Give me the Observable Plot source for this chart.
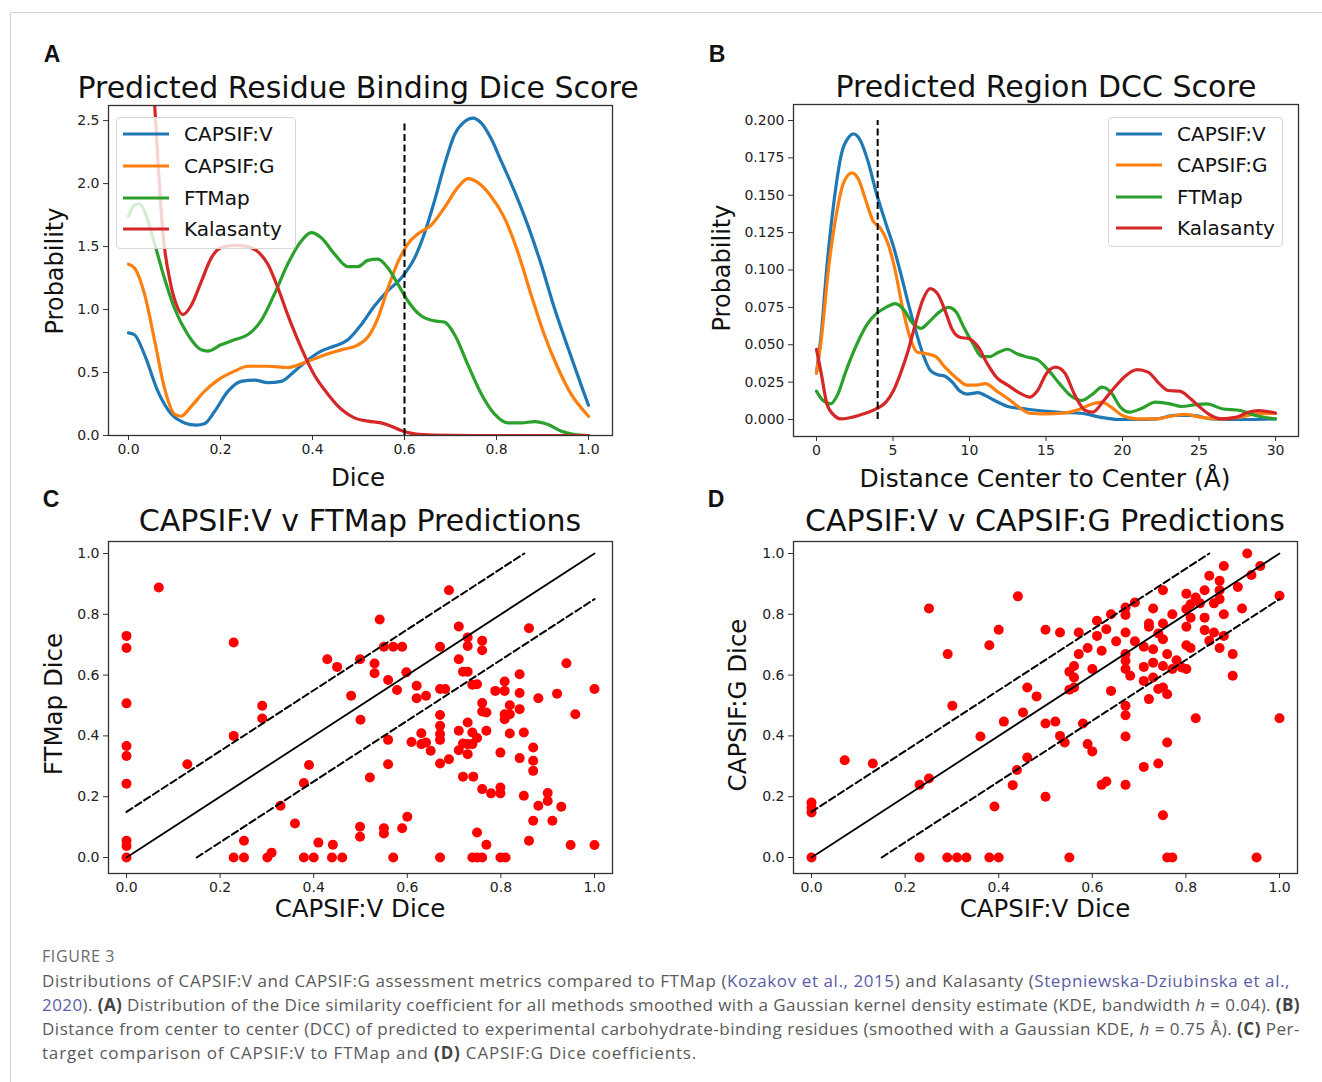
<!DOCTYPE html>
<html>
<head>
<meta charset="utf-8">
<script src="https://cdn.jsdelivr.net/npm/d3@7"></script>
<script src="https://cdn.jsdelivr.net/npm/@observablehq/plot@0.6"></script>
<style>
  html, body { margin: 0; padding: 0; background: #fff; }
  #page { position: relative; width: 1322px; height: 1082px; overflow: hidden; background: #fff; }
  #border { position: absolute; left: 10px; top: 12px; right: 0; bottom: -5px; border-top: 1px solid #d2d2d2; border-left: 1px solid #d2d2d2; }
  #fig { position: absolute; left: 0; top: 0; width: 1322px; height: 935px; }
  .t { position: absolute; white-space: nowrap; line-height: 1; font-family: "DejaVu Sans", sans-serif; color: #111; transform: translate(-50%, -50%); }
  .rot { transform: translate(-50%, -50%) rotate(-90deg); }
  .letter { font-family: "Liberation Sans", Arial, sans-serif; font-weight: bold; font-size: 23px; }
  .legend { position: absolute; background: rgba(255,255,255,0.8); border: 1px solid #d6d6d6; border-radius: 4px; box-sizing: border-box; }
  .lline { position: absolute; height: 3px; transform: translateY(-50%); }
  .ltext { position: absolute; font-family: "DejaVu Sans", sans-serif; font-size: 20px; line-height: 1; transform: translateY(-50%); white-space: nowrap; color: #111; }
  .cap { position: absolute; left: 42px; white-space: nowrap; font-family: "Open Sans", Lato, sans-serif; font-size: 17px; color: #595959; line-height: 1; transform: translateY(-50%); }
  .cap b { color: #444; }
  .cap a { color: #5a5ca8; text-decoration: none; }
</style>
</head>
<body>
<div id="page">
  <div id="border"></div>
  <div id="fig"></div>
  <div class="cap" style="top:956px;font-size:16px;letter-spacing:0.6px;color:#6a6a6a;">FIGURE 3</div>
  <div class="cap fit" data-right="1290" style="top:980px;">Distributions of CAPSIF:V and CAPSIF:G assessment metrics compared to FTMap (<a>Kozakov et al., 2015</a>) and Kalasanty (<a>Stepniewska-Dziubinska et al.,</a></div>
  <div class="cap fit" data-right="1300" style="top:1004px;"><a>2020</a>). <b>(A)</b> Distribution of the Dice similarity coefficient for all methods smoothed with a Gaussian kernel density estimate (KDE, bandwidth <i>h</i> = 0.04). <b>(B)</b></div>
  <div class="cap fit" data-right="1300" style="top:1028px;">Distance from center to center (DCC) of predicted to experimental carbohydrate-binding residues (smoothed with a Gaussian KDE, <i>h</i> = 0.75 Å). <b>(C)</b> Per-</div>
  <div class="cap fit" data-right="697" style="top:1052px;">target comparison of CAPSIF:V to FTMap and <b>(D)</b> CAPSIF:G Dice coefficients.</div>
</div>
<script>
// ---------------- DATA ----------------
const methods = ["CAPSIF:V", "CAPSIF:G", "FTMap", "Kalasanty"];
const methodColors = ["#1f77b4", "#ff7f0e", "#2ca02c", "#d62728"];

const diceTicks = [0, 0.2, 0.4, 0.6, 0.8, 1.0];
const probTicksA = [0, 0.5, 1.0, 1.5, 2.0, 2.5];
const dccTicks = [0, 5, 10, 15, 20, 25, 30];
const probTicksB = [0, 0.025, 0.05, 0.075, 0.1, 0.125, 0.15, 0.175, 0.2];

// Panel A: KDE of Dice (x, density)
const diceCapsifV = [[0,0.815],[0.013,0.80],[0.035,0.64],[0.064,0.35],[0.093,0.17],[0.122,0.10],[0.147,0.082],[0.165,0.093],[0.187,0.19],[0.216,0.35],[0.245,0.43],[0.274,0.44],[0.303,0.42],[0.332,0.43],[0.361,0.51],[0.39,0.60],[0.419,0.67],[0.448,0.71],[0.477,0.76],[0.506,0.88],[0.535,1.03],[0.564,1.15],[0.593,1.25],[0.622,1.41],[0.643,1.60],[0.665,1.86],[0.687,2.15],[0.709,2.39],[0.73,2.49],[0.749,2.52],[0.767,2.48],[0.788,2.36],[0.81,2.18],[0.839,1.94],[0.868,1.67],[0.897,1.36],[0.926,1.01],[0.955,0.70],[0.984,0.40],[1.0,0.24]];
const diceCapsifG = [[0,1.36],[0.013,1.33],[0.035,1.12],[0.057,0.75],[0.078,0.38],[0.1,0.17],[0.114,0.153],[0.136,0.23],[0.165,0.35],[0.194,0.44],[0.23,0.51],[0.259,0.55],[0.303,0.55],[0.346,0.54],[0.383,0.58],[0.419,0.63],[0.462,0.68],[0.499,0.72],[0.52,0.78],[0.542,0.93],[0.564,1.17],[0.586,1.38],[0.607,1.52],[0.629,1.60],[0.658,1.67],[0.687,1.81],[0.716,1.97],[0.738,2.04],[0.759,2.01],[0.788,1.90],[0.817,1.73],[0.846,1.46],[0.875,1.12],[0.904,0.80],[0.933,0.54],[0.962,0.33],[1.0,0.153]];
const diceFTMap = [[0,1.74],[0.013,1.83],[0.024,1.84],[0.038,1.75],[0.057,1.52],[0.078,1.25],[0.1,1.01],[0.129,0.80],[0.158,0.68],[0.172,0.67],[0.201,0.72],[0.23,0.76],[0.259,0.80],[0.288,0.91],[0.317,1.12],[0.346,1.36],[0.375,1.54],[0.397,1.61],[0.419,1.57],[0.448,1.44],[0.477,1.34],[0.499,1.34],[0.52,1.39],[0.542,1.40],[0.564,1.33],[0.586,1.20],[0.607,1.07],[0.636,0.95],[0.665,0.91],[0.687,0.90],[0.709,0.80],[0.738,0.56],[0.767,0.33],[0.796,0.17],[0.825,0.10],[0.854,0.10],[0.883,0.11],[0.912,0.087],[0.941,0.034],[0.97,0.008],[1.0,0.0]];
const diceKalasanty = [[0,5.5],[0.03,4.2],[0.0565,2.65],[0.065,2.12],[0.075,1.6],[0.089,1.25],[0.104,1.04],[0.118,0.96],[0.136,1.03],[0.158,1.22],[0.18,1.41],[0.201,1.49],[0.23,1.51],[0.259,1.50],[0.281,1.46],[0.303,1.36],[0.325,1.17],[0.346,0.96],[0.375,0.70],[0.404,0.48],[0.433,0.33],[0.462,0.21],[0.491,0.14],[0.52,0.114],[0.549,0.10],[0.571,0.074],[0.593,0.04],[0.622,0.013],[0.665,0.003],[0.75,0],[1.0,0]];
const diceThreshold = {x: 0.6, y1: 0, y2: 2.5};

// Panel B: KDE of DCC (x in Å, density)
const dccCapsifV = [[0,0.031],[0.31,0.057],[0.68,0.102],[1.16,0.147],[1.64,0.178],[2.12,0.189],[2.41,0.191],[2.85,0.187],[3.33,0.174],[3.93,0.151],[4.54,0.131],[5.02,0.116],[5.5,0.098],[5.99,0.078],[6.47,0.060],[6.95,0.044],[7.43,0.033],[7.92,0.030],[8.4,0.029],[8.88,0.025],[9.37,0.019],[9.85,0.017],[10.57,0.018],[11.05,0.016],[11.78,0.012],[12.5,0.0087],[13.7,0.007],[14.9,0.0056],[16.1,0.0047],[17.3,0.0042],[18.5,0.0016],[19.7,0],[21,0],[22.2,0.0004],[23.4,0.0027],[24.6,0.0027],[25.8,0.0004],[28.2,0],[30,0.0004]];
const dccCapsifG = [[0,0.031],[0.31,0.053],[0.8,0.102],[1.28,0.136],[1.76,0.158],[2.32,0.165],[2.73,0.161],[3.21,0.147],[3.69,0.133],[4.18,0.128],[4.66,0.118],[5.14,0.100],[5.62,0.075],[6.11,0.055],[6.59,0.045],[7.19,0.044],[7.8,0.042],[8.4,0.035],[9.12,0.028],[9.85,0.023],[10.45,0.023],[11.05,0.024],[11.78,0.019],[12.5,0.014],[13.23,0.0083],[13.95,0.0042],[14.9,0.0038],[16.1,0.0042],[17.1,0.0065],[18.05,0.0105],[18.66,0.0116],[19.26,0.0083],[19.99,0.0027],[20.95,0.0004],[22.2,0.0004],[23.4,0.0027],[24.1,0.0034],[25.05,0.0016],[26.3,0.0004],[27.7,0.0016],[28.7,0.0038],[30,0.0042]];
const dccFTMap = [[0,0.019],[0.43,0.0127],[0.92,0.0105],[1.4,0.017],[1.88,0.031],[2.37,0.044],[2.85,0.055],[3.33,0.064],[3.93,0.071],[4.54,0.075],[5.14,0.0775],[5.74,0.073],[6.23,0.065],[6.83,0.061],[7.43,0.066],[8.04,0.072],[8.64,0.075],[9.12,0.072],[9.61,0.062],[10.21,0.051],[10.81,0.042],[11.3,0.042],[11.9,0.045],[12.5,0.047],[13.1,0.044],[13.7,0.042],[14.43,0.040],[15.16,0.033],[15.88,0.024],[16.6,0.016],[17.33,0.0127],[18.05,0.017],[18.66,0.0217],[19.26,0.018],[19.86,0.0083],[20.47,0.0049],[21.19,0.0072],[22.16,0.0116],[23.1,0.0105],[23.85,0.0087],[24.8,0.010],[25.5,0.0105],[26.5,0.0072],[27.7,0.006],[28.7,0.0027],[30,0.0004]];
const dccKalasanty = [[0,0.047],[0.31,0.031],[0.68,0.0105],[1.16,0.0027],[1.64,0.0004],[2.37,0.0016],[3.09,0.0038],[3.93,0.0072],[4.54,0.0116],[5.02,0.019],[5.5,0.031],[5.99,0.046],[6.47,0.064],[6.95,0.080],[7.43,0.0876],[7.92,0.084],[8.4,0.073],[8.88,0.060],[9.37,0.055],[9.97,0.054],[10.57,0.0485],[11.18,0.037],[11.78,0.028],[12.5,0.023],[13.23,0.018],[13.95,0.015],[14.43,0.019],[15.04,0.031],[15.64,0.035],[16.24,0.031],[16.85,0.017],[17.57,0.006],[18.05,0.0049],[18.78,0.0127],[19.5,0.0217],[20.23,0.0295],[20.95,0.0333],[21.67,0.0317],[22.4,0.024],[23.0,0.0194],[23.73,0.019],[24.45,0.0139],[25.05,0.0083],[25.78,0.0027],[26.5,0.0004],[27.47,0.0016],[28.2,0.0049],[28.9,0.006],[30,0.0042]];
const dccThreshold = {x: 4, y1: 0, y2: 0.2};

// Panel C: per-target CAPSIF:V Dice vs FTMap Dice
const capsifVvsFTMap = [[0,0.729],[0,0.689],[0,0.507],[0,0.367],[0,0.334],[0,0.243],[0,0.055],[0,0.038],[0,0],[0.069,0.888],[0.13,0.307],[0.229,0.707],[0.229,0.4],[0.229,0],[0.251,0.055],[0.251,0],[0.29,0.499],[0.29,0.457],[0.301,0],[0.31,0.016],[0.329,0.17],[0.36,0.112],[0.379,0.245],[0.39,0.304],[0.379,0],[0.4,0],[0.41,0.049],[0.429,0.652],[0.441,0.042],[0.439,0],[0.45,0.627],[0.461,0],[0.48,0.532],[0.499,0.652],[0.5,0.453],[0.499,0.101],[0.499,0.068],[0.52,0.263],[0.53,0.638],[0.53,0.606],[0.541,0.783],[0.55,0.693],[0.55,0.096],[0.55,0.079],[0.559,0.584],[0.559,0.387],[0.559,0.307],[0.57,0.693],[0.57,0],[0.578,0.551],[0.589,0.693],[0.589,0.096],[0.598,0.609],[0.6,0.134],[0.609,0.38],[0.62,0.565],[0.62,0.524],[0.63,0.409],[0.63,0.373],[0.64,0.532],[0.64,0.378],[0.65,0.351],[0.67,0.693],[0.67,0.554],[0.681,0.554],[0.67,0.469],[0.67,0.433],[0.67,0.406],[0.67,0.387],[0.67,0.309],[0.67,0],[0.689,0.879],[0.689,0.323],[0.71,0.76],[0.71,0.652],[0.71,0.417],[0.71,0.353],[0.719,0.611],[0.719,0.375],[0.719,0.266],[0.729,0.724],[0.729,0.696],[0.729,0.611],[0.729,0.444],[0.729,0.373],[0.729,0.34],[0.739,0.568],[0.739,0.411],[0.739,0.373],[0.741,0.266],[0.739,0],[0.749,0.57],[0.749,0.393],[0.749,0.082],[0.749,0],[0.76,0.713],[0.76,0.682],[0.76,0.508],[0.76,0.48],[0.76,0.225],[0.76,0],[0.769,0.477],[0.769,0.417],[0.769,0.042],[0.779,0.211],[0.788,0.548],[0.799,0.345],[0.799,0.23],[0.799,0.211],[0.799,0],[0.808,0.579],[0.808,0.548],[0.808,0.471],[0.808,0.455],[0.81,0],[0.819,0.501],[0.819,0.471],[0.819,0.408],[0.84,0.603],[0.84,0.541],[0.84,0.488],[0.84,0.327],[0.849,0.411],[0.849,0.203],[0.86,0.754],[0.86,0.055],[0.869,0.362],[0.869,0.318],[0.869,0.285],[0.869,0.121],[0.88,0.524],[0.88,0.17],[0.9,0.212],[0.9,0.186],[0.91,0.121],[0.92,0.539],[0.929,0.167],[0.94,0.639],[0.949,0.041],[0.959,0.471],[1.0,0.554],[1.0,0.041]];

// Panel D: per-target CAPSIF:V Dice vs CAPSIF:G Dice
const capsifVvsCapsifG = [[0,0.181],[0,0.164],[0,0.148],[0,0],[0.071,0.32],[0.131,0.309],[0.231,0.239],[0.251,0.26],[0.251,0.819],[0.231,0],[0.29,0],[0.311,0],[0.331,0],[0.291,0.669],[0.301,0.499],[0.361,0.398],[0.38,0.698],[0.4,0.749],[0.38,0],[0.4,0],[0.391,0.168],[0.411,0.447],[0.43,0.238],[0.439,0.288],[0.441,0.859],[0.452,0.477],[0.461,0.559],[0.461,0.329],[0.481,0.53],[0.5,0.749],[0.5,0.441],[0.5,0.2],[0.521,0.447],[0.531,0.74],[0.531,0.4],[0.541,0.378],[0.551,0.611],[0.551,0.552],[0.551,0],[0.561,0.63],[0.561,0.592],[0.561,0.559],[0.571,0.74],[0.571,0.669],[0.58,0.441],[0.59,0.689],[0.59,0.373],[0.6,0.62],[0.6,0.349],[0.61,0.779],[0.61,0.729],[0.62,0.68],[0.62,0.239],[0.63,0.25],[0.63,0.751],[0.64,0.8],[0.64,0.548],[0.651,0.711],[0.671,0.822],[0.671,0.798],[0.671,0.74],[0.671,0.669],[0.671,0.647],[0.671,0.62],[0.671,0.499],[0.671,0.468],[0.671,0.398],[0.671,0.239],[0.681,0.598],[0.691,0.839],[0.691,0.711],[0.71,0.693],[0.71,0.627],[0.71,0.581],[0.71,0.298],[0.721,0.77],[0.721,0.759],[0.721,0.521],[0.73,0.819],[0.73,0.685],[0.73,0.641],[0.73,0.592],[0.741,0.309],[0.741,0.554],[0.741,0.737],[0.751,0.879],[0.751,0.77],[0.751,0.718],[0.751,0.63],[0.751,0.559],[0.751,0.139],[0.76,0.669],[0.76,0.537],[0.76,0.378],[0.76,0],[0.771,0],[0.771,0.8],[0.771,0.62],[0.78,0.649],[0.791,0.625],[0.801,0.868],[0.801,0.817],[0.801,0.759],[0.801,0.698],[0.801,0.62],[0.81,0.833],[0.81,0.789],[0.81,0.689],[0.821,0.855],[0.821,0.458],[0.83,0.836],[0.84,0.879],[0.84,0.789],[0.84,0.748],[0.85,0.927],[0.85,0.713],[0.86,0.836],[0.86,0.74],[0.872,0.91],[0.872,0.879],[0.872,0.85],[0.872,0.689],[0.881,0.959],[0.881,0.8],[0.881,0.729],[0.9,0.669],[0.9,0.598],[0.911,0.89],[0.92,0.819],[0.931,1.0],[0.94,0.929],[0.951,0],[0.959,0.959],[1.0,0.861],[1.0,0.458]];

// Reference lines for scatter panels: identity and +/-0.15 offsets
const refLines = [
  {kind: "solid",  pts: [[0, 0], [1, 1]]},
  {kind: "dashed", pts: [[0, 0.15], [0.85, 1]]},
  {kind: "dashed", pts: [[0.15, 0], [1, 0.85]]}
];
const scatterTicks = [0, 0.2, 0.4, 0.6, 0.8, 1.0];

// ---------------- DRAWING ----------------
const fig = document.getElementById("fig");

function addText(txt, x, y, size, extraClass = "", extraStyle = "") {
  const d = document.createElement("div");
  d.className = "t " + extraClass;
  d.style.left = x + "px";
  d.style.top = y + "px";
  if (size) d.style.fontSize = size + "px";
  d.style.cssText += extraStyle;
  d.textContent = txt;
  fig.appendChild(d);
}

function panel({left, top, width, height, frame, xdom, ydom, marks, xticks, yticks, xfmt, yfmt}) {
  const [fx0, fy0, fx1, fy1] = frame;
  const svg = Plot.plot({
    width, height,
    marginLeft: fx0 - left, marginTop: fy0 - top,
    marginRight: left + width - fx1, marginBottom: top + height - fy1,
    x: {domain: xdom},
    y: {domain: ydom},
    style: {fontFamily: "DejaVu Sans, sans-serif", fontSize: "14px", color: "#222", background: "transparent", overflow: "visible"},
    marks: [
      ...marks,
      Plot.axisX({ticks: xticks, tickFormat: xfmt, tickSize: 5, tickPadding: 4, fontSize: 14, label: null, stroke: "#333"}),
      Plot.axisY({ticks: yticks, tickFormat: yfmt, tickSize: 5, tickPadding: 4, fontSize: 14, label: null, stroke: "#333"}),
      Plot.frame({stroke: "#333", strokeWidth: 1.3})
    ]
  });
  svg.style.position = "absolute";
  svg.style.left = left + "px";
  svg.style.top = top + "px";
  fig.appendChild(svg);
  return svg;
}

function kdeMarks(seriesList) {
  return seriesList.map((pts, i) =>
    Plot.line(pts, {x: d => d[0], y: d => d[1], stroke: methodColors[i], strokeWidth: 3.2, curve: "monotone-x", clip: true})
  );
}

function addLegend(left, top, width, height, rowYs, lineX0, lineX1, textX) {
  const lg = document.createElement("div");
  lg.className = "legend";
  lg.style.left = left + "px"; lg.style.top = top + "px";
  lg.style.width = width + "px"; lg.style.height = height + "px";
  methods.forEach((m, i) => {
    const ln = document.createElement("div");
    ln.className = "lline";
    ln.style.left = (lineX0 - left) + "px";
    ln.style.width = (lineX1 - lineX0) + "px";
    ln.style.top = (rowYs[i] - top) + "px";
    ln.style.background = methodColors[i];
    lg.appendChild(ln);
    const tx = document.createElement("div");
    tx.className = "ltext";
    tx.style.left = (textX - left) + "px";
    tx.style.top = (rowYs[i] - top) + "px";
    tx.textContent = m;
    lg.appendChild(tx);
  });
  fig.appendChild(lg);
}

const f1 = d3.format(".1f"), f3 = d3.format(".3f"), f0 = d3.format("d");

// Panel A
panel({
  left: 60, top: 95, width: 570, height: 370,
  frame: [108, 105, 612, 435],
  xdom: [-20 / 460, 484 / 460], ydom: [0, 2.62],
  xticks: diceTicks, yticks: probTicksA, xfmt: f1, yfmt: f1,
  marks: [
    ...kdeMarks([diceCapsifV, diceCapsifG, diceFTMap, diceKalasanty]),
    Plot.ruleX([diceThreshold], {x: "x", y1: "y1", y2: "y2", stroke: "#000", strokeWidth: 2, strokeDasharray: "7,3.5"})
  ]
});
addLegend(116, 117, 180, 132, [133, 165, 197, 228], 122, 168, 183);

// Panel B
panel({
  left: 720, top: 95, width: 590, height: 370,
  frame: [793, 104, 1298, 436],
  xdom: [-1.5, 31.5], ydom: [-(436 - 419) / 1495, (419 - 104) / 1495],
  xticks: dccTicks, yticks: probTicksB, xfmt: f0, yfmt: f3,
  marks: [
    ...kdeMarks([dccCapsifV, dccCapsifG, dccFTMap, dccKalasanty]),
    Plot.ruleX([dccThreshold], {x: "x", y1: "y1", y2: "y2", stroke: "#000", strokeWidth: 2, strokeDasharray: "7,3.5"})
  ]
});
addLegend(1108, 117, 175, 130, [133, 164, 196, 227], 1115, 1161, 1176);

// Scatter panels
function scatterMarks(points) {
  return [
    Plot.dot(points, {x: d => d[0], y: d => d[1], r: 5, fill: "#ff0000", stroke: "none"}),
    ...refLines.map(l => Plot.line(l.pts, {x: d => d[0], y: d => d[1], stroke: "#000", strokeWidth: l.kind === "solid" ? 1.8 : 2, strokeDasharray: l.kind === "solid" ? null : "7,3.5"}))
  ];
}
const sxDom = [-18 / 468, 486 / 468];
const syDom = [-(873 - 857) / 304, (857 - 541) / 304];

panel({
  left: 60, top: 530, width: 570, height: 380,
  frame: [108, 541, 612, 873],
  xdom: sxDom, ydom: syDom,
  xticks: scatterTicks, yticks: scatterTicks, xfmt: f1, yfmt: f1,
  marks: scatterMarks(capsifVvsFTMap)
});
panel({
  left: 740, top: 530, width: 570, height: 380,
  frame: [793, 541, 1297, 873],
  xdom: sxDom, ydom: syDom,
  xticks: scatterTicks, yticks: scatterTicks, xfmt: f1, yfmt: f1,
  marks: scatterMarks(capsifVvsCapsifG)
});

// Titles, letters, axis labels
addText("A", 52, 54, null, "letter");
addText("B", 717, 54, null, "letter");
addText("C", 51, 499, null, "letter");
addText("D", 716, 499, null, "letter");

addText("Predicted Residue Binding Dice Score", 358, 88, 30);
addText("Predicted Region DCC Score", 1046, 87, 30);
addText("CAPSIF:V v FTMap Predictions", 360, 521, 30);
addText("CAPSIF:V v CAPSIF:G Predictions", 1045, 521, 30);

addText("Dice", 358, 478, 24.5);
addText("Distance Center to Center (Å)", 1045, 478, 25);
addText("CAPSIF:V Dice", 360, 909, 24.5);
addText("CAPSIF:V Dice", 1045, 909, 24.5);

addText("Probability", 55, 271, 24, "rot");
addText("Probability", 722, 268, 24, "rot");
addText("FTMap Dice", 54, 704, 24.5, "rot");
addText("CAPSIF:G Dice", 738, 705, 24.5, "rot");

// Fit caption lines to the reference's line lengths with a small letter-spacing tweak
document.querySelectorAll(".cap.fit").forEach(el => {
  const target = +el.dataset.right - 42;
  const w = el.getBoundingClientRect().width;
  const n = el.textContent.length;
  const ls = Math.max(-1, Math.min(1.2, (target - w) / n));
  el.style.letterSpacing = ls.toFixed(3) + "px";
});
</script>
</body>
</html>
